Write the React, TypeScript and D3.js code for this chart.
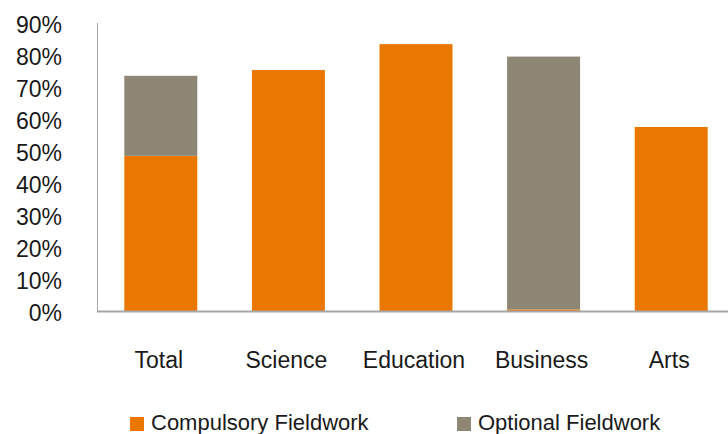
import React from "react";
import * as d3 from "d3";

// Fieldwork participation by faculty (share of students, %)
const categories = ["Total", "Science", "Education", "Business", "Arts"];
const compulsory = [48.5, 75.3, 83.4, 0.5, 57.5];
const optional = [25.0, 0, 0, 79.0, 0];
const seriesNames = ["Compulsory Fieldwork", "Optional Fieldwork"];
const yTicks = [0, 10, 20, 30, 40, 50, 60, 70, 80, 90];

const COLORS = ["#EB7703", "#8D8675"];
const FONT = "'Liberation Sans', Arial, Helvetica, sans-serif";

const W = 728;
const H = 434;

export default function App() {
  const x = d3
    .scaleBand<string>()
    .domain(categories)
    .range([97, 735])
    .paddingInner(0.428)
    .paddingOuter(0.214);

  const y = d3.scaleLinear().domain([0, 90]).range([311, 23]);

  const rows = categories.map((c, i) => ({
    category: c,
    compulsory: compulsory[i],
    optional: optional[i],
  }));
  const stacked = d3.stack<any>().keys(["compulsory", "optional"])(rows);

  return (
    <svg
      width={W}
      height={H}
      style={{ position: "absolute", left: 0, top: 0, background: "#fff" }}
      fontFamily={FONT}
    >
      {/* bars */}
      {stacked.map((layer, li) => (
        <g key={layer.key} fill={COLORS[li]}>
          {layer.map((d, i) =>
            d[1] - d[0] > 0 ? (
              <rect
                key={categories[i]}
                x={x(categories[i])}
                y={y(d[1])}
                width={x.bandwidth()}
                height={y(d[0]) - y(d[1])}
              />
            ) : null
          )}
        </g>
      ))}

      {/* axes */}
      <line x1={97.5} x2={97.5} y1={y(90)} y2={y(0)} stroke="#a6a6a6" strokeWidth={1} />
      <line x1={97} x2={W} y1={y(0) + 0.5} y2={y(0) + 0.5} stroke="#a6a6a6" strokeWidth={2} />

      {/* y tick labels */}
      {yTicks.map((t) => (
        <text
          key={t}
          x={62}
          y={y(t) + 1.5}
          dy="0.35em"
          textAnchor="end"
          fontSize={23}
          fill="#1a1a1a"
        >
          {t}%
        </text>
      ))}

      {/* category labels */}
      {categories.map((c) => (
        <text
          key={c}
          x={(x(c) as number) + x.bandwidth() / 2 - 2}
          y={368}
          textAnchor="middle"
          fontSize={23}
          fill="#1a1a1a"
        >
          {c}
        </text>
      ))}

      {/* legend */}
      {seriesNames.map((name, i) => {
        const lx = [130, 457][i];
        return (
          <g key={name}>
            <rect x={lx} y={417} width={14} height={14} fill={COLORS[i]} />
            <text x={lx + 21} y={430} fontSize={22} fill="#1a1a1a">
              {name}
            </text>
          </g>
        );
      })}
    </svg>
  );
}
